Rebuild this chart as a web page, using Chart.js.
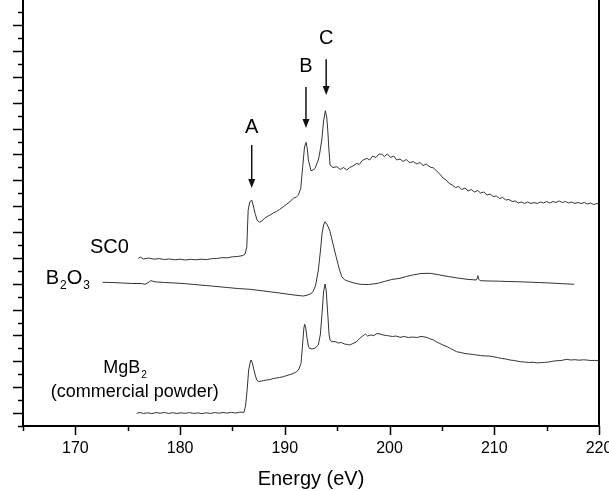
<!DOCTYPE html>
<html>
<head>
<meta charset="utf-8">
<script src="https://cdn.jsdelivr.net/npm/chart.js@4/dist/chart.umd.min.js"></script>
<style>
html,body{margin:0;padding:0;background:#fff;}
#wrap{width:609px;height:491px;}
</style>
</head>
<body>
<div id="wrap"><canvas id="c" width="609" height="491"></canvas></div>
<script>
// ---- Data (Energy in eV, intensity in arbitrary units) ----
const sc0Data = [[176.0,167.5],[176.2,169],[176.5,167],[177,168],[177.5,166.8],[178,167.4],[178.5,166.5],[179,167],[179.5,166.2],[180,166.8],[180.5,166],[181,166.7],[181.5,166.2],[182,166.8],[182.5,166.4],[183,167.3],[183.5,167.5],[184,168.3],[184.5,168.2],[185,169.2],[185.5,169.5],[186,170.5],[186.2,172],[186.37,179],[186.5,216],[186.65,224],[186.84,226],[187.0,220],[187.16,212.7],[187.35,206],[187.57,203.7],[187.8,205],[188.1,208],[188.4,210],[188.6,211],[188.9,213],[189.2,214.5],[189.5,216.5],[189.86,219.3],[190.2,222],[190.5,224.5],[190.82,227.7],[191.1,229],[191.3,231],[191.52,237.7],[191.71,259.3],[191.88,279],[192.03,283.7],[192.15,277],[192.25,266],[192.5,255.3],[192.7,256],[192.89,257.7],[193.05,262],[193.2,266],[193.35,274],[193.53,286],[193.7,305],[193.87,315.3],[194.0,309],[194.1,296],[194.2,278],[194.32,261],[194.6,258.5],[194.96,259.3],[195.3,256.5],[195.6,258.5],[195.92,256],[196.2,258.5],[196.5,260],[196.87,262.7],[197.1,261.5],[197.4,265.5],[197.83,267.7],[198.1,266],[198.4,270],[198.7,268.5],[199.0,272],[199.26,271.7],[199.5,269.5],[199.8,272],[200.1,268.5],[200.4,270],[200.69,266],[201.0,267],[201.3,264.5],[201.6,266.5],[201.9,263.5],[202.28,264.3],[202.6,262],[202.9,263.5],[203.2,260.5],[203.5,262],[203.87,259],[204.2,258],[204.5,255],[204.8,252],[205.1,248],[205.4,246],[205.7,242.5],[206.0,241],[206.3,238.5],[206.6,239.5],[206.9,236.5],[207.2,238],[207.5,235],[207.8,236.5],[208.1,234],[208.4,235.5],[208.7,233],[209.0,234],[209.3,231],[209.6,232],[209.9,229.5],[210.2,230],[210.5,227.5],[210.8,228.5],[211.1,226],[211.4,226.5],[211.7,224.5],[212.0,225],[212.3,223],[212.6,224],[212.9,222.5],[213.2,224],[213.5,222.5],[213.8,223.5],[214.1,222.5],[214.4,224],[214.7,223],[215.0,224.5],[215.3,223],[215.6,224.5],[215.9,223.5],[216.2,225],[216.5,223.5],[216.8,224.5],[217.1,223],[217.4,224],[217.7,222.5],[218.0,223.5],[218.3,222.5],[218.6,223.5],[218.9,222],[219.2,223],[219.5,221.5],[219.8,222.5],[220.0,221.5]];

const b2o3Data = [[172.6,143.7],[173.5,143.5],[174.5,143],[175.5,142.5],[176.3,142.5],[176.65,141.7],[176.9,143],[177.2,145.3],[177.5,144.5],[177.77,144],[178.5,143.5],[179.5,143],[180.5,142.3],[181.9,141],[183,140],[184.5,138.5],[185.5,137.5],[186.7,136.7],[188,135],[189.5,133],[190.5,131.5],[191.46,130.3],[191.77,130],[192.2,131],[192.5,132.5],[192.7,134.3],[192.95,141],[193.2,156],[193.4,175],[193.55,192],[193.7,201],[193.84,204.3],[194.0,202],[194.15,199],[194.32,194.3],[194.6,182],[194.9,169.3],[195.2,157],[195.44,149.3],[195.7,146.3],[195.92,145.3],[196.5,143.3],[197.19,141.7],[198,141.5],[198.8,142.5],[199.5,144.5],[200.2,146.5],[201.0,147.7],[201.6,149.5],[202.2,151],[203.0,152.5],[203.9,152.7],[204.8,151],[205.6,149.5],[206.5,148],[207.4,146.7],[208.27,146],[208.38,148],[208.43,150.3],[208.5,147],[208.65,145.3],[209.5,145],[210.5,144.8],[211.3,144.5],[212.15,144.3],[213.5,143.8],[215.33,143],[216.5,142.3],[217.63,141.7]];

const mgb2Data = [[175.86,12.7],[176.2,13.5],[176.5,12.5],[176.9,13.2],[177.3,12.4],[177.7,13.4],[178.1,12.8],[178.5,13.5],[178.9,12.6],[179.3,13.3],[179.7,12.5],[180.1,13.2],[180.5,12.7],[180.9,13.4],[181.3,12.6],[181.7,13.1],[182.1,12.4],[182.5,13.2],[182.9,12.6],[183.3,13.4],[183.7,12.8],[184.1,13.5],[184.5,12.9],[184.9,13.6],[185.3,13],[185.7,13.8],[186.1,13.7],[186.25,20],[186.4,36],[186.55,56],[186.7,64],[186.78,66],[186.9,63],[187.05,56],[187.2,50],[187.32,46],[187.5,44.5],[187.8,45],[188.0,45.5],[188.27,46],[188.6,46.5],[188.9,47.5],[189.2,48],[189.5,48.5],[189.86,49.3],[190.2,50.5],[190.5,51.5],[190.8,52.5],[191.14,54.3],[191.35,57],[191.55,62.7],[191.7,82],[191.82,98],[191.9,101.7],[192.0,98],[192.12,88],[192.25,80],[192.35,77.7],[192.6,77],[192.9,78],[193.2,81],[193.4,92],[193.55,112],[193.7,134],[193.84,142],[193.95,136],[194.1,112],[194.22,92],[194.32,86],[194.5,84.3],[194.8,84.5],[195.1,83],[195.4,83.5],[195.7,82],[196.0,81.5],[196.2,81],[196.5,82.5],[196.8,84],[197.1,87],[197.3,89],[197.5,90.5],[197.7,92],[197.9,90],[198.2,91],[198.5,90.5],[198.8,92.5],[199.1,92],[199.4,91],[199.7,90.5],[200.0,90],[200.3,89.5],[200.6,90],[201.0,88.7],[201.4,89.5],[201.8,88.5],[202.2,89],[202.6,88.5],[203.0,89.5],[203.2,89.3],[203.6,88.5],[203.9,87],[204.2,86],[204.5,84],[204.8,82.5],[205.1,81],[205.5,79.3],[205.8,77.5],[206.1,76],[206.4,74.3],[206.8,73.5],[207.2,72.5],[207.6,72],[208.0,71.5],[208.3,71],[208.7,70.5],[209.1,70],[209.5,70],[209.9,69.3],[210.3,68.5],[210.7,67.5],[211.1,67],[211.5,66],[211.9,65.5],[212.5,64.3],[212.9,64],[213.3,63.5],[213.7,63.8],[214.0,63.2],[214.4,63.3],[214.8,63.6],[215.2,64],[215.6,64.8],[216.0,65.3],[216.4,65.5],[216.9,66.7],[217.3,66],[217.7,66.3],[218.1,65.8],[218.5,66.2],[218.8,66],[219.2,65.5],[219.6,65.6],[219.95,65.3]];

const xTickValues = [165,170,175,180,185,190,195,200,205,210,215,220];
const xLabelValues = [170,180,190,200,210,220];
const xAxisTitle = 'Energy (eV)';
const yMinorStep = 12.93;   // spacing of the unlabeled intensity ticks
const yRange = [0, 426];

// Peak markers: [label, energy, text baseline intensity, arrow start, arrow tip]
const peakMarks = [['A',186.84,292.7,281,238],['B',192.02,354.3,339,298],['C',193.95,382,366.7,331]];
// Curve labels: [main text, subscript parts..., energy (left), baseline intensity, font size]
const curveLabels = [
  {parts:[['SC0',0]], x:171.4, y:172.7, size:20},
  {parts:[['B',0],['2',1],['O',0],['3',1]], x:167.17, y:142, size:20},
  {parts:[['MgB',0],['2',1]], x:172.67, y:52.7, size:18},
  {parts:[['(commercial powder)',0]], x:167.65, y:29, size:18}
];

const FONT = '"Liberation Sans", Arial, Helvetica, sans-serif';
const toXY = arr => arr.map(p => ({x:p[0], y:p[1]}));

const yTicks = [];
for (let v = 0; v <= yRange[1] + 0.01; v += yMinorStep) yTicks.push(v);

const overlay = {
  id:'overlay',
  afterDraw(chart){
    const {ctx, chartArea:ca, scales:{x, y}} = chart;
    ctx.save();
    ctx.strokeStyle = '#000';
    // right frame line
    ctx.lineWidth = 2;
    ctx.beginPath(); ctx.moveTo(ca.right, 0); ctx.lineTo(ca.right, ca.bottom); ctx.stroke();
    // ticks
    ctx.lineWidth = 1.5;
    x.ticks.forEach(t => {
      const px = Math.round(x.getPixelForValue(t.value)) + 0.5;
      const len = (t.value % 10 === 0) ? 9 : 5;
      ctx.beginPath(); ctx.moveTo(px, ca.bottom); ctx.lineTo(px, ca.bottom + len); ctx.stroke();
    });
    y.ticks.forEach((t, i) => {
      const py = Math.round(y.getPixelForValue(t.value)) + 0.5;
      const len = (i % 2 === 1) ? 10 : 5;
      ctx.beginPath(); ctx.moveTo(ca.left - len, py); ctx.lineTo(ca.left, py); ctx.stroke();
    });
    // peak markers
    ctx.fillStyle = '#000';
    ctx.textAlign = 'center';
    ctx.textBaseline = 'alphabetic';
    peakMarks.forEach(m => {
      const px = x.getPixelForValue(m[1]);
      ctx.font = '20px ' + FONT;
      ctx.fillText(m[0], px, y.getPixelForValue(m[2]));
      const y0 = y.getPixelForValue(m[3]), y1 = y.getPixelForValue(m[4]);
      ctx.strokeStyle = '#111'; ctx.lineWidth = 1.5;
      ctx.beginPath(); ctx.moveTo(px, y0); ctx.lineTo(px, y1 - 6); ctx.stroke();
      ctx.fillStyle = '#111';
      ctx.beginPath(); ctx.moveTo(px - 3.5, y1 - 9); ctx.lineTo(px + 3.5, y1 - 9); ctx.lineTo(px, y1); ctx.closePath(); ctx.fill();
      ctx.fillStyle = '#000';
    });
    // curve labels
    ctx.textAlign = 'left';
    curveLabels.forEach(l => {
      let px = x.getPixelForValue(l.x);
      const py = y.getPixelForValue(l.y);
      l.parts.forEach(p => {
        const sub = p[1] === 1;
        const size = sub ? Math.round(l.size * 0.58) : l.size;
        ctx.font = size + 'px ' + FONT;
        ctx.fillText(p[0], px + (sub ? 1 : 0), py + (sub ? 5 : 0));
        px += ctx.measureText(p[0]).width + (sub ? 1 : 0);
      });
    });
    ctx.restore();
  }
};

const lineStyle = {borderColor:'#333', borderWidth:1, pointRadius:0, fill:false, tension:0, showLine:true};

new Chart(document.getElementById('c'), {
  type:'scatter',
  data:{datasets:[
    Object.assign({label:'SC0', data:toXY(sc0Data)}, lineStyle),
    Object.assign({label:'B2O3', data:toXY(b2o3Data)}, lineStyle),
    Object.assign({label:'MgB2 (commercial powder)', data:toXY(mgb2Data)}, lineStyle)
  ]},
  options:{
    responsive:false,
    animation:false,
    layout:{padding:{left:0, right:10, top:0, bottom:0}},
    plugins:{legend:{display:false}, tooltip:{enabled:false}},
    scales:{
      x:{
        type:'linear', position:'bottom', min:165, max:220,
        afterBuildTicks: s => { s.ticks = xTickValues.map(v => ({value:v})); },
        afterFit: s => { s.height = 65; s.paddingLeft = 0; s.paddingRight = 0; },
        ticks:{
          autoSkip:false, maxRotation:0, padding:5, color:'#000',
          font:{family:FONT, size:16},
          callback: v => xLabelValues.includes(v) ? String(v) : ''
        },
        grid:{drawOnChartArea:false, tickLength:8, tickColor:'rgba(0,0,0,0)'},
        border:{display:true, color:'#000', width:2},
        title:{display:true, text:xAxisTitle, color:'#000', font:{family:FONT, size:20}, padding:{top:0,bottom:0}}
      },
      y:{
        type:'linear', position:'left', min:yRange[0], max:yRange[1],
        afterBuildTicks: s => { s.ticks = yTicks.map(v => ({value:v})); },
        afterFit: s => { s.width = 23; s.paddingTop = 0; s.paddingBottom = 0; },
        ticks:{display:false},
        grid:{drawOnChartArea:false, tickLength:0, tickColor:'rgba(0,0,0,0)'},
        border:{display:true, color:'#000', width:2}
      }
    }
  },
  plugins:[overlay]
});
</script>
</body>
</html>
